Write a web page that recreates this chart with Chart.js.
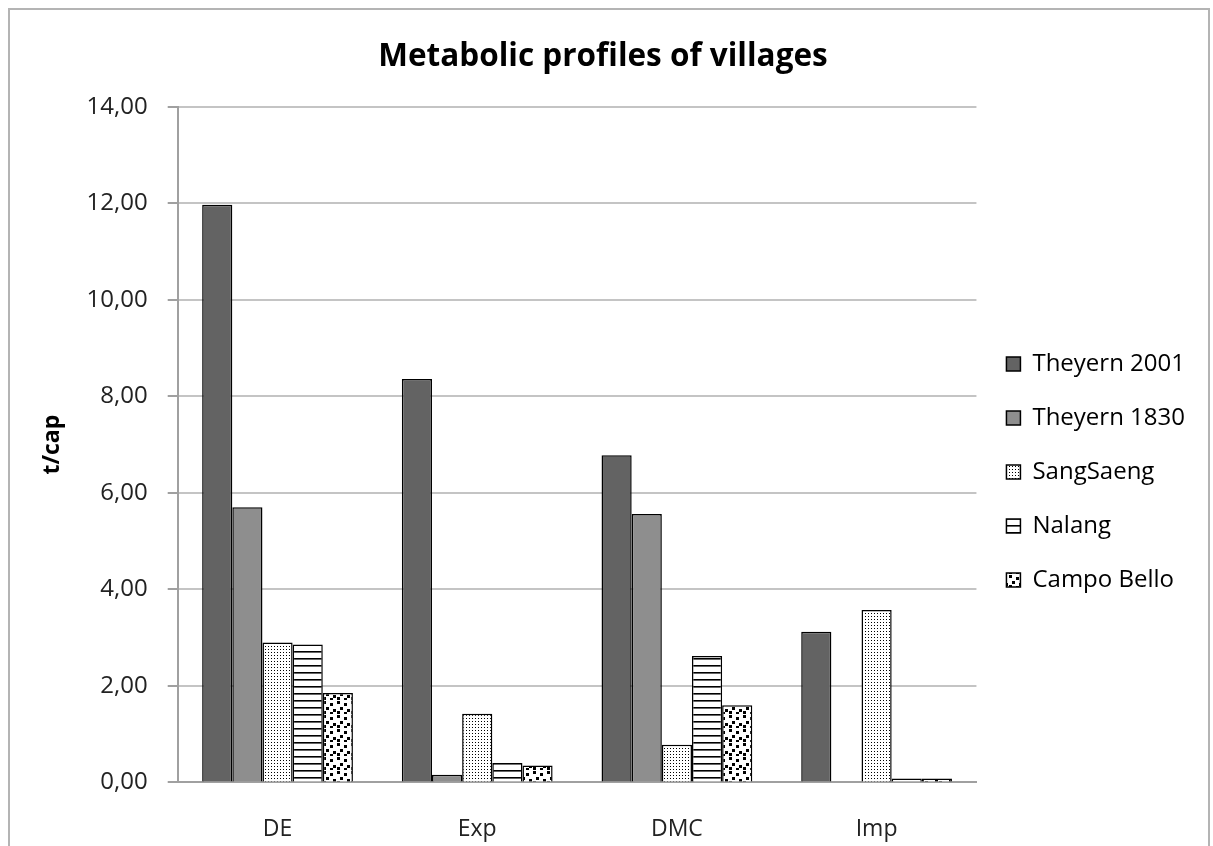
<!DOCTYPE html>
<html>
<head>
<meta charset="utf-8">
<script src="https://cdn.jsdelivr.net/npm/chart.js@4.4.1/dist/chart.umd.min.js"></script>
<style>
  html, body { margin: 0; padding: 0; background: #fff; overflow: hidden; }
  #frame { position: absolute; left: 8px; top: 8px; width: 1202px; height: 860px; border: 2px solid #b4b4b4; box-sizing: border-box; }
  #wrap { position: absolute; left: 0; top: 0; width: 1213px; height: 876px; }
</style>
</head>
<body>
<div id="frame"></div>
<div id="wrap"><canvas id="c"></canvas></div>
<script>
const categories = ['DE', 'Exp', 'DMC', 'Imp'];
const seriesNames = ['Theyern 2001', 'Theyern 1830', 'SangSaeng', 'Nalang', 'Campo Bello'];
const theyern2001 = [11.97, 8.36, 6.78, 3.12];
const theyern1830 = [5.70, 0.16, 5.56, 0.00];
const sangSaeng = [2.90, 1.42, 0.78, 3.57];
const nalang = [2.86, 0.40, 2.62, 0.08];
const campoBello = [1.85, 0.35, 1.60, 0.08];
const yTicks = [0, 2, 4, 6, 8, 10, 12, 14];

function makePattern(kind) {
  const c = document.createElement('canvas');
  const x = c.getContext('2d');
  if (kind === 'dots') {
    c.width = 3; c.height = 3;
    x.fillStyle = '#fff'; x.fillRect(0, 0, 3, 3);
    x.fillStyle = '#000'; x.fillRect(1, 1, 1, 1);
  } else if (kind === 'hlines') {
    c.width = 8; c.height = 7;
    x.fillStyle = '#fff'; x.fillRect(0, 0, 8, 7);
    x.fillStyle = '#000'; x.fillRect(0, 0, 8, 1.6);
  } else {
    c.width = 14; c.height = 14;
    x.fillStyle = '#fff'; x.fillRect(0, 0, 14, 14);
    x.fillStyle = '#000';
    [[1,1],[8,3],[4,7],[11,9],[1,11],[8,12]].forEach(p => x.fillRect(p[0], p[1], 3, 3));
  }
  return document.createElement('canvas').getContext('2d').createPattern(c, 'repeat');
}

const fills = ['#636363', '#8e8e8e', makePattern('dots'), makePattern('hlines'), makePattern('squares')];
const values = [theyern2001, theyern1830, sangSaeng, nalang, campoBello];

const FONT = '"Open Sans", sans-serif';

const legendShift = {
  id: 'legendShift',
  afterLayout(chart) {
    if (chart.legend) { chart.legend.top += 22; chart.legend.bottom += 22; }
  }
};

new Chart(document.getElementById('c'), {
  type: 'bar',
  data: {
    labels: categories,
    datasets: seriesNames.map((n, i) => ({
      label: n,
      data: values[i],
      backgroundColor: fills[i],
      borderColor: '#000',
      borderWidth: 1.5,
      categoryPercentage: 0.755,
      barPercentage: 1.0
    }))
  },
  plugins: [legendShift],
  options: {
    responsive: true,
    maintainAspectRatio: false,
    animation: false,
    layout: { padding: { left: 11, right: 18, top: 24, bottom: 0 } },
    plugins: {
      title: {
        display: true,
        text: 'Metabolic profiles of villages',
        color: '#000',
        font: { family: FONT, size: 31.5, weight: 'bold' },
        padding: { top: 14, bottom: 31 }
      },
      legend: {
        position: 'right',
        align: 'center',
        labels: {
          color: '#000',
          font: { family: FONT, size: 24 },
          boxWidth: 14,
          boxHeight: 14,
          padding: 30
        }
      },
      tooltip: { enabled: false }
    },
    scales: {
      x: {
        grid: { display: false, drawTicks: false },
        border: { display: true, color: '#a0a0a0', width: 2 },
        ticks: { color: '#222', font: { family: FONT, size: 23 }, padding: 33 }
      },
      y: {
        min: 0,
        max: 14,
        afterBuildTicks: (ax) => { ax.ticks = yTicks.map(v => ({ value: v })); },
        title: {
          display: true,
          text: 't/cap',
          color: '#000',
          font: { family: FONT, size: 23, weight: 'bold' },
          padding: { top: 28, bottom: 0 }
        },
        grid: { color: '#c4c4c4', lineWidth: 2, tickLength: 10, tickColor: '#a0a0a0', tickWidth: 2 },
        border: { display: true, color: '#a0a0a0', width: 2 },
        ticks: {
          color: '#222',
          font: { family: FONT, size: 24 },
          padding: 20,
          callback: (v) => Number(v).toFixed(2).replace('.', ',')
        }
      }
    }
  }
});
</script>
</body>
</html>
